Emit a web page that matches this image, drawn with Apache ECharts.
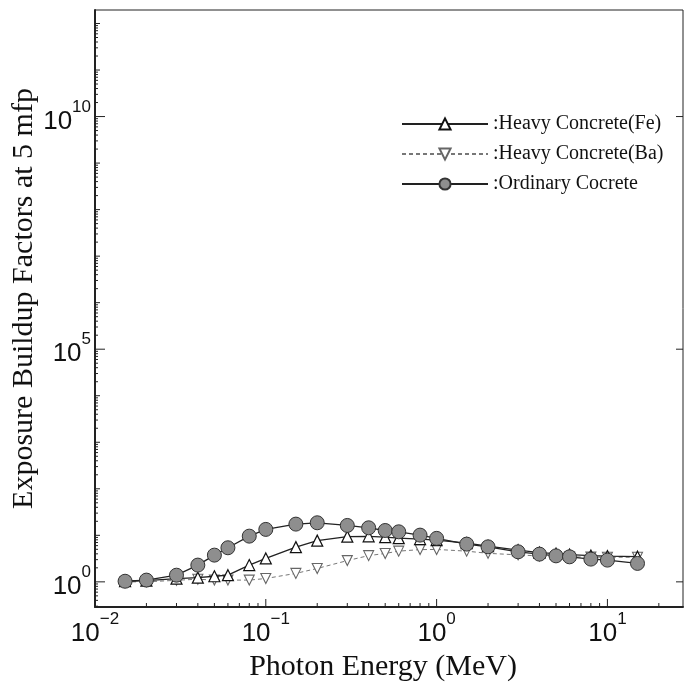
<!DOCTYPE html>
<html>
<head>
<meta charset="utf-8">
<script src="https://cdn.jsdelivr.net/npm/echarts@6/dist/echarts.min.js"></script>
<style>
  html, body { margin: 0; padding: 0; background: #fff; }
  #chart { width: 685px; height: 695px; }
</style>
</head>
<body>
<div id="chart"></div>
<script>
// Photon energies (MeV)
const energies = [0.015, 0.02, 0.03, 0.04, 0.05, 0.06, 0.08, 0.1, 0.15, 0.2, 0.3, 0.4, 0.5,
                  0.6, 0.8, 1, 1.5, 2, 3, 4, 5, 6, 8, 10, 15];
// Exposure buildup factors at 5 mfp
const heavyFe = [1.03, 1.06, 1.17, 1.23, 1.32, 1.39, 2.29, 3.19, 5.57, 7.69, 9.38, 9.5, 9.15,
                 8.7, 8.3, 7.9, 6.8, 5.86, 4.8, 4.25, 4.04, 3.85, 3.66, 3.57, 3.48];
const heavyBa = [1.0, 1.0, 1.08, 1.14, 1.09, 1.09, 1.09, 1.18, 1.52, 1.94, 2.86, 3.66, 4.08,
                 4.57, 4.93, 4.97, 4.57, 4.1, 3.8, 3.6, 3.5, 3.45, 3.4, 3.38, 3.38];
const ordinary = [1.03, 1.09, 1.39, 2.29, 3.75, 5.4, 9.6, 13.4, 17.4, 18.6, 16.3, 14.5, 12.7,
                  11.9, 10.1, 8.6, 6.47, 5.66, 4.42, 3.94, 3.62, 3.45, 3.08, 2.93, 2.49];

const seriesNames = ['Heavy Concrete(Fe)', 'Heavy Concrete(Ba)', 'Ordinary Cocrete'];

// Axis ranges and tick decades (powers of ten)
const xRange = [0.01, 27.7];
const yRange = [0.288, 1.95e12];
const xDecades = [-2, -1, 0, 1];
const yDecades = [-1, 0, 1, 2, 3, 4, 5, 6, 7, 8, 9, 10, 11, 12];
const yLabelled = [0, 5, 10];

const pairs = vals => energies.map((e, i) => [e, vals[i]]);

const expText = e => (e < 0 ? '\u2212' + (-e) : String(e));

function powerLabel(v) {
  const p = Math.log10(v);
  const e = Math.round(p);
  if (Math.abs(p - e) > 1e-6) return '';
  return '{b|10}{s|' + expText(e) + '}';
}

// "10" sitting low in a tall line, exponent pinned to the top of it
const labelRich = {
  b: { fontFamily: 'Liberation Sans', fontSize: 26, color: '#111', fill: '#111',
       lineHeight: 36, verticalAlign: 'bottom' },
  s: { fontFamily: 'Liberation Sans', fontSize: 17, color: '#111', fill: '#111',
       lineHeight: 17, verticalAlign: 'top' }
};

// Decade and 2..9 minor ticks drawn inward from the frame, plus the y power labels
function renderTicks(params, api) {
  if (params.dataIndex !== 0) return;
  const children = [];
  const seg = (x1, y1, x2, y2) => children.push({
    type: 'line', shape: { x1, y1, x2, y2 },
    style: { stroke: '#222', lineWidth: 1 }
  });
  const bl = api.coord([xRange[0], yRange[0]]);
  const tr = api.coord([xRange[1], yRange[1]]);
  const left = bl[0], bottom = bl[1], right = tr[0];
  xDecades.forEach(e => {
    for (let m = 1; m <= 9; m++) {
      const v = m * Math.pow(10, e);
      if (v <= xRange[0] * 1.0001 || v >= xRange[1]) continue;
      const x = api.coord([v, 1])[0];
      seg(x, bottom, x, bottom - (m === 1 ? 8 : 4));
    }
  });
  yDecades.forEach(e => {
    for (let m = 1; m <= 9; m++) {
      const v = m * Math.pow(10, e);
      if (v <= yRange[0] || v >= yRange[1]) continue;
      const y = api.coord([1, v])[1];
      const major = m === 1 && yLabelled.indexOf(e) >= 0;
      seg(left, y, left + (m === 1 ? (major ? 10 : 5) : 3), y);
      if (major) {
        seg(right, y, right - 7, y);
        children.push({
          type: 'text', x: left - 4, y: y,
          style: {
            text: '{b|10}{s|' + expText(e) + '}', rich: labelRich,
            align: 'right', verticalAlign: 'middle'
          }
        });
      }
    }
  });
  return { type: 'group', children };
}

const chart = echarts.init(document.getElementById('chart'));
chart.setOption({
  animation: false,
  backgroundColor: '#fff',
  grid: {
    left: 95, right: 2, top: 10, bottom: 88,
    outerBoundsMode: 'none', containLabel: false,
    show: true, borderColor: '#222', borderWidth: 1, backgroundColor: 'transparent'
  },
  legend: {
    data: seriesNames,
    orient: 'vertical',
    left: 396, top: 109,
    itemWidth: 86, itemHeight: 14, itemGap: 10,
    formatter: n => ':' + n,
    textStyle: { fontFamily: 'Liberation Serif', fontSize: 20, color: '#111' }
  },
  xAxis: {
    type: 'log', logBase: 10,
    min: xRange[0], max: xRange[1], interval: 1,
    name: 'Photon Energy (MeV)', nameLocation: 'middle', nameGap: 42,
    nameTextStyle: { fontFamily: 'Liberation Serif', fontSize: 30, color: '#111', padding: [0, 12, 0, 0] },
    axisLine: { show: true, lineStyle: { color: '#222', width: 2 } },
    axisTick: { show: false },
    splitLine: { show: false },
    axisLabel: {
      margin: 4, showMaxLabel: false,
      formatter: v => powerLabel(v),
      rich: labelRich
    }
  },
  yAxis: {
    type: 'log', logBase: 10,
    min: yRange[0], max: yRange[1],
    name: 'Exposure Buildup Factors at 5 mfp', nameLocation: 'middle', nameGap: 56,
    nameTextStyle: { fontFamily: 'Liberation Serif', fontSize: 30, color: '#111', padding: [0, 0, 0, 20] },
    axisLine: { show: true, lineStyle: { color: '#222', width: 2 } },
    axisTick: { show: false },
    splitLine: { show: false },
    axisLabel: { show: false }
  },
  series: [
    {
      name: seriesNames[0], type: 'line', data: pairs(heavyFe),
      symbol: 'triangle', symbolSize: 11, showAllSymbol: true,
      itemStyle: { color: '#fff', borderColor: '#111', borderWidth: 1.2 },
      lineStyle: { color: '#222', width: 1.3 },
      emphasis: { disabled: true }, z: 3
    },
    {
      name: seriesNames[1], type: 'line', data: pairs(heavyBa),
      symbol: 'triangle', symbolRotate: 180, symbolSize: 10, showAllSymbol: true,
      itemStyle: { color: '#fff', borderColor: '#666', borderWidth: 1.1 },
      lineStyle: { color: '#777', width: 1, type: [4, 3] },
      emphasis: { disabled: true }, z: 2
    },
    {
      name: seriesNames[2], type: 'line', data: pairs(ordinary),
      symbol: 'circle', symbolSize: 14, showAllSymbol: true,
      itemStyle: { color: '#8e8e8e', borderColor: '#333', borderWidth: 1 },
      lineStyle: { color: '#222', width: 1.3 },
      emphasis: { disabled: true }, z: 4
    },
    {
      type: 'custom', renderItem: renderTicks, data: [[1, 1]],
      silent: true, clip: false, z: 5
    }
  ]
});
</script>
</body>
</html>
